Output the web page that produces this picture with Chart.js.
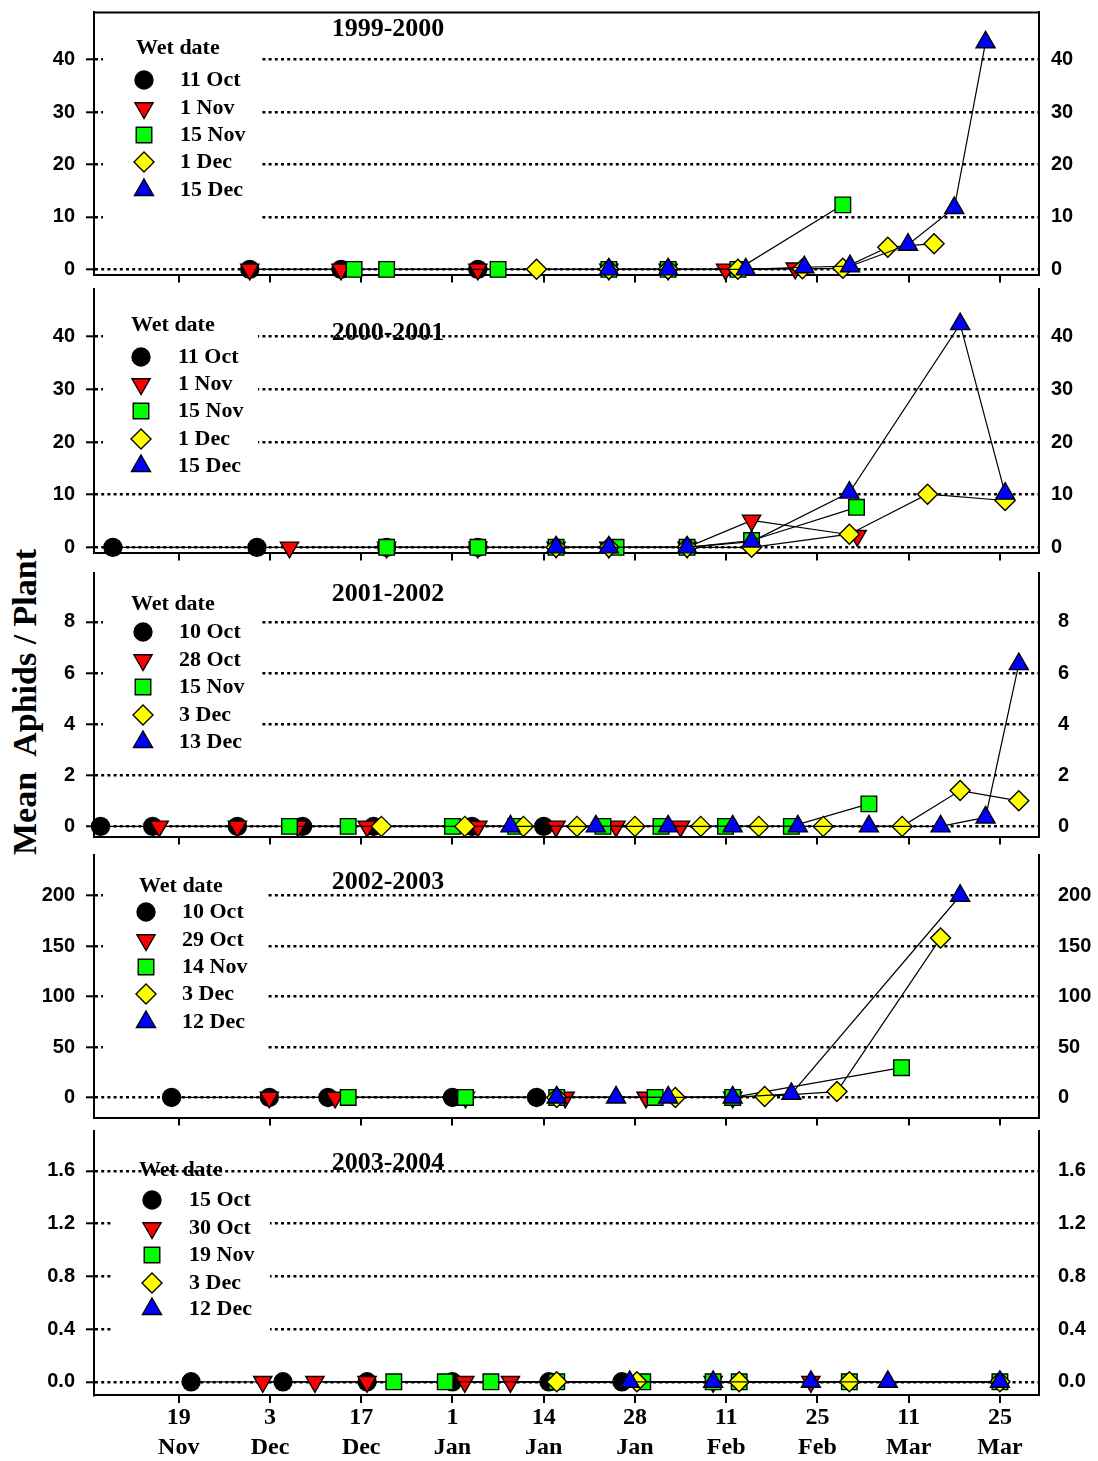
<!DOCTYPE html>
<html>
<head>
<meta charset="utf-8">
<script src="https://cdn.jsdelivr.net/npm/chart.js@4.4.1/dist/chart.umd.min.js"></script>
<style>
  body { margin: 0; background: #fff; }
  #wrap { position: relative; width: 1098px; height: 1461px; overflow: hidden; background: #fff; }
  #wrap canvas { position: absolute; left: 0; }
  #ytitle {
    position: absolute; left: 25px; top: 702px;
    transform: translate(-50%, -50%) rotate(-90deg);
    font: bold 34px "Liberation Serif", "Times New Roman", serif;
    white-space: pre; color: #000;
  }
</style>
</head>
<body>
<div id="wrap">
  <div id="ytitle">Mean  Aphids / Plant</div>
</div>
<script>
// seasons and wetting dates (legend entries)
const seasons = ['1999-2000', '2000-2001', '2001-2002', '2002-2003', '2003-2004'];
const wetDates = [
  ['11 Oct', '1 Nov', '15 Nov', '1 Dec', '15 Dec'],
  ['11 Oct', '1 Nov', '15 Nov', '1 Dec', '15 Dec'],
  ['10 Oct', '28 Oct', '15 Nov', '3 Dec', '13 Dec'],
  ['10 Oct', '29 Oct', '14 Nov', '3 Dec', '12 Dec'],
  ['15 Oct', '30 Oct', '19 Nov', '3 Dec', '12 Dec']
];

// x values are days after 19 Nov
const xTickDays = [0, 14, 28, 42, 56, 70, 84, 98, 112, 126];
const xTickLabels = [['19', 'Nov'], ['3', 'Dec'], ['17', 'Dec'], ['1', 'Jan'], ['14', 'Jan'],
  ['28', 'Jan'], ['11', 'Feb'], ['25', 'Feb'], ['11', 'Mar'], ['25', 'Mar']];

// y ticks per panel
const p1YTicks = [0, 10, 20, 30, 40];
const p2YTicks = [0, 10, 20, 30, 40];
const p3YTicks = [0, 2, 4, 6, 8];
const p4YTicks = [0, 50, 100, 150, 200];
const p5YTicks = [0, 0.4, 0.8, 1.2, 1.6];

// [day, mean aphids per plant]
const p1Circle = [[10.9, 0], [24.9, 0], [45.9, 0]];
const p1Down = [[10.9, 0], [24.9, 0], [45.9, 0], [66, 0], [75.1, 0], [83.9, 0], [94.6, 0.2]];
const p1Square = [[26.9, 0], [31.9, 0], [49, 0], [66, 0], [75.1, 0], [85.8, 0], [101.9, 12.3]];
const p1Diamond = [[54.9, 0], [66, 0], [75.1, 0], [85.8, 0], [95.7, 0.1], [101.9, 0.2], [108.8, 4.2], [115.9, 4.9]];
const p1Up = [[66, 0], [75.1, 0], [87, 0], [96, 0.4], [103, 0.6], [111.9, 4.7], [119, 11.7], [123.8, 43.3]];

const p2Circle = [[-10.1, 0], [12, 0], [31.9, 0], [45.9, 0]];
const p2Down = [[17, 0], [31.9, 0], [45.9, 0], [57.9, 0], [66, 0], [78, 0], [87.9, 5.1], [104.1, 2.2]];
const p2Square = [[31.9, 0], [45.9, 0], [57.9, 0], [67.1, 0], [78, 0], [87.9, 1.3], [104, 7.6]];
const p2Diamond = [[57.9, 0], [66, 0], [78, 0], [87.9, 0], [102.9, 2.5], [114.9, 10.1], [126.8, 8.9]];
const p2Up = [[57.9, 0], [66, 0], [78, 0], [87.9, 1.1], [102.9, 10.4], [119.9, 42.4], [126.8, 10.2]];

const p3Circle = [[-12, 0], [-4, 0], [9, 0], [19, 0], [29.9, 0], [45, 0], [56, 0]];
const p3Down = [[-3, 0], [9, 0], [18.3, 0], [28.9, 0], [45.9, 0], [57.9, 0], [67.1, 0], [77, 0]];
const p3Square = [[17, 0], [26, 0], [42, 0], [51.7, 0], [65.1, 0], [74, 0], [83.9, 0], [94, 0], [105.9, 0.88]];
const p3Diamond = [[31.1, 0], [43.9, 0], [52.9, 0], [61.1, 0], [70, 0], [80.1, 0], [89, 0], [98.9, 0], [111, 0], [119.9, 1.4], [128.9, 1.0]];
const p3Up = [[50.9, 0], [64, 0], [75.1, 0], [85, 0], [95, 0], [105.9, 0], [116.9, 0], [123.8, 0.35], [128.9, 6.35]];

const p4Circle = [[-1.1, 0], [13.9, 0], [22.9, 0], [42, 0], [54.9, 0]];
const p4Down = [[13.9, 0], [24, 0], [44, 0], [59.3, 0], [71.7, 0], [85, 0]];
const p4Square = [[26, 0], [44, 0], [58, 0], [73.1, 0], [85, 0], [110.9, 29.5]];
const p4Diamond = [[58, 0], [76.2, 0], [89.9, 1], [101, 5.8], [116.9, 158]];
const p4Up = [[58, 0], [67.1, 0], [75.1, 0], [85, 0], [94, 3.5], [119.9, 200]];

const p5Circle = [[1.9, 0], [16, 0], [28.9, 0], [42, 0], [56.8, 0], [68, 0]];
const p5Down = [[12.9, 0], [20.9, 0], [28.9, 0], [43.9, 0], [50.9, 0], [82, 0], [97, 0]];
const p5Square = [[33, 0], [40.9, 0], [47.9, 0], [58, 0], [71.2, 0], [82, 0], [86, 0], [102.9, 0], [126, 0]];
const p5Diamond = [[58, 0], [70.3, 0], [86, 0], [102.9, 0], [126, 0]];
const p5Up = [[69.2, 0], [82, 0], [97, 0], [108.8, 0], [126, 0]];

// marker look for the 5 wetting dates
const markers = [
  { style: 'circle', rot: 0, r: 9, color: '#000000' },
  { style: 'triangle', rot: 180, r: 10.5, color: '#ff0000' },
  { style: 'rect', rot: 0, r: 11, color: '#00ff00' },
  { style: 'rectRot', rot: 0, r: 10, color: '#ffff00' },
  { style: 'triangle', rot: 0, r: 11, color: '#0000ff' }
];

const SERIF = '"Liberation Serif", "Times New Roman", serif';
const SANS = '"Liberation Sans", Arial, sans-serif';

// page layout of each panel
const panels = [
  { data: [p1Circle, p1Down, p1Square, p1Diamond, p1Up], yTicks: p1YTicks, yMin: -1, yMax: 49, dec: 0,
    top: 8, bottom: 275, titleY: 29, rightPad: 12, topBorder: true,
    box: [103, 40, 158, 185], wetX: 136, wetY: 48, rows: [80, 108, 135, 162, 190], markX: 144, textX: 180 },
  { data: [p2Circle, p2Down, p2Square, p2Diamond, p2Up], yTicks: p2YTicks, yMin: -1, yMax: 49, dec: 0,
    top: 285, bottom: 553, titleY: 333, rightPad: 12,
    box: [103, 315, 155, 160], wetX: 131, wetY: 325, rows: [357, 384, 411, 439, 466], markX: 141, textX: 178 },
  { data: [p3Circle, p3Down, p3Square, p3Diamond, p3Up], yTicks: p3YTicks, yMin: -0.4, yMax: 9.9, dec: 0,
    top: 569, bottom: 837, titleY: 594, rightPad: 19,
    box: [103, 595, 157, 157], wetX: 131, wetY: 604, rows: [632, 660, 687, 715, 742], markX: 143, textX: 179 },
  { data: [p4Circle, p4Down, p4Square, p4Diamond, p4Up], yTicks: p4YTicks, yMin: -20, yMax: 240, dec: 0,
    top: 851, bottom: 1118, titleY: 882, rightPad: 19,
    box: [103, 876, 164, 174], wetX: 139, wetY: 886, rows: [912, 940, 967, 994, 1022], markX: 146, textX: 182 },
  { data: [p5Circle, p5Down, p5Square, p5Diamond, p5Up], yTicks: p5YTicks, yMin: -0.1, yMax: 1.9, dec: 1,
    top: 1127, bottom: 1395, titleY: 1163, rightPad: 19,
    box: [112, 1181, 158, 154], wetX: 139, wetY: 1170, rows: [1200, 1228, 1255, 1283, 1309], markX: 152, textX: 189 }
];

function drawMarker(ctx, m, x, y) {
  ctx.save();
  ctx.fillStyle = m.color;
  ctx.strokeStyle = '#000';
  ctx.lineWidth = 1.4;
  ctx.beginPath();
  const r = m.r;
  if (m.style === 'circle') {
    ctx.arc(x, y, r, 0, Math.PI * 2);
  } else if (m.style === 'triangle') {
    let a = m.rot * Math.PI / 180;
    for (let i = 0; i < 3; i++) {
      const px = x + Math.sin(a) * r, py = y - Math.cos(a) * r;
      if (i === 0) ctx.moveTo(px, py); else ctx.lineTo(px, py);
      a += 2 * Math.PI / 3;
    }
    ctx.closePath();
  } else if (m.style === 'rect') {
    const s = r * Math.SQRT1_2;
    ctx.rect(x - s, y - s, 2 * s, 2 * s);
  } else {
    ctx.moveTo(x, y - r); ctx.lineTo(x + r, y); ctx.lineTo(x, y + r); ctx.lineTo(x - r, y);
    ctx.closePath();
  }
  ctx.fill();
  ctx.stroke();
  ctx.restore();
}

// title under the grid, legend box + legend over the grid
function makeDecor(P, idx, off) {
  return {
    id: 'decor' + idx,
    beforeDraw(chart) {
      const ctx = chart.ctx;
      ctx.save();
      ctx.font = 'bold 26px ' + SERIF;
      ctx.fillStyle = '#000';
      ctx.textAlign = 'center';
      ctx.textBaseline = 'middle';
      ctx.fillText(seasons[idx], 388, P.titleY - off);
      ctx.restore();
    },
    beforeDatasetsDraw(chart) {
      const ctx = chart.ctx;
      const b = P.box;
      ctx.save();
      ctx.fillStyle = '#fff';
      ctx.fillRect(b[0], b[1] - off, b[2], b[3]);
      ctx.font = 'bold 22px ' + SERIF;
      ctx.fillStyle = '#000';
      ctx.textBaseline = 'middle';
      ctx.textAlign = 'left';
      ctx.fillText('Wet date', P.wetX, P.wetY - off);
      for (let k = 0; k < 5; k++) {
        drawMarker(ctx, markers[k], P.markX, P.rows[k] - off);
        ctx.fillText(wetDates[idx][k], P.textX, P.rows[k] - off);
      }
      if (P.topBorder) {
        const a = chart.chartArea;
        ctx.strokeStyle = '#000';
        ctx.lineWidth = 2;
        ctx.beginPath();
        ctx.moveTo(a.left, a.top);
        ctx.lineTo(a.right, a.top);
        ctx.stroke();
      }
      ctx.restore();
    }
  };
}

const wrap = document.getElementById('wrap');
const PAD_TOP = 8;

panels.forEach((P, idx) => {
  const last = idx === panels.length - 1;
  const xh = last ? 1461 - P.bottom : 12;
  const canvasTop = P.top - PAD_TOP;
  const h = PAD_TOP + (P.bottom - P.top) + xh;
  const cv = document.createElement('canvas');
  cv.width = 1098;
  cv.height = h;
  cv.style.top = canvasTop + 'px';
  cv.style.width = '1098px';
  cv.style.height = h + 'px';
  wrap.appendChild(cv);

  const datasets = P.data.map((pts, k) => ({
    label: wetDates[idx][k],
    data: pts.map(p => ({ x: p[0], y: p[1] })),
    showLine: true,
    borderColor: '#000',
    borderWidth: 1.2,
    pointStyle: markers[k].style,
    pointRotation: markers[k].rot,
    pointRadius: markers[k].r,
    pointBackgroundColor: markers[k].color,
    pointBorderColor: '#000',
    pointBorderWidth: 1.4,
    order: 4 - k,
    clip: false
  }));

  const yTickList = P.yTicks.map(v => ({ value: v }));
  // fixed axis sizes, no label overhang padding
  const fitY = w => s => { s.width = w; s.paddingTop = 0; s.paddingBottom = 0; };

  new Chart(cv, {
    type: 'scatter',
    data: { datasets: datasets },
    options: {
      responsive: false,
      animation: false,
      devicePixelRatio: 1,
      layout: { padding: { top: PAD_TOP, left: 0, right: 0, bottom: 0 } },
      plugins: { legend: { display: false }, tooltip: { enabled: false } },
      scales: {
        x: {
          type: 'linear',
          min: -13,
          max: 132,
          afterBuildTicks: s => { s.ticks = xTickDays.map(v => ({ value: v })); },
          afterFit: s => { s.height = xh; s.paddingLeft = 0; s.paddingRight = 0; },
          grid: { drawOnChartArea: false, drawTicks: true, tickLength: 8, color: '#000', lineWidth: 2 },
          border: { display: true, color: '#000', width: 2 },
          ticks: {
            display: last,
            padding: 0,
            color: '#000',
            font: { family: SERIF, size: 24, weight: 'bold', lineHeight: '30px' },
            maxRotation: 0,
            autoSkip: false,
            callback: (v, i) => xTickLabels[i]
          }
        },
        y: {
          position: 'left',
          min: P.yMin,
          max: P.yMax,
          afterBuildTicks: s => { s.ticks = yTickList.map(t => ({ value: t.value })); },
          afterFit: fitY(94),
          grid: { drawOnChartArea: true, drawTicks: true, tickLength: 8, color: '#000', lineWidth: 2.6, tickWidth: 2 },
          border: { display: true, color: '#000', width: 2, dash: [3, 3.2] },
          ticks: {
            padding: 11,
            color: '#000',
            font: { family: SANS, size: 20, weight: 'bold' },
            callback: v => v.toFixed(P.dec)
          }
        },
        y2: {
          position: 'right',
          min: P.yMin,
          max: P.yMax,
          afterBuildTicks: s => { s.ticks = yTickList.map(t => ({ value: t.value })); },
          afterFit: fitY(1098 - 1039),
          grid: { drawOnChartArea: false, drawTicks: false },
          border: { display: true, color: '#000', width: 2 },
          ticks: {
            padding: P.rightPad,
            color: '#000',
            font: { family: SANS, size: 20, weight: 'bold' },
            callback: v => v.toFixed(P.dec)
          }
        }
      }
    },
    plugins: [makeDecor(P, idx, canvasTop)]
  });
});
</script>
</body>
</html>
